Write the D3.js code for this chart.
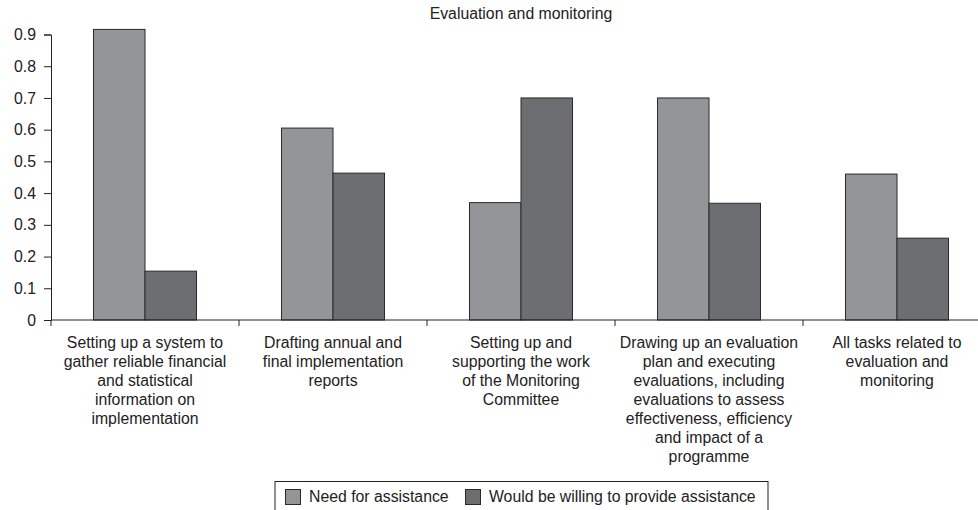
<!DOCTYPE html>
<html>
<head>
<meta charset="utf-8">
<script src="https://cdn.jsdelivr.net/npm/d3@7"></script>
<style>
  html, body { margin: 0; padding: 0; background: #fff; }
  svg { display: block; font-family: "Liberation Sans", Arial, sans-serif; }
</style>
</head>
<body>
<svg id="chart" width="978" height="510"></svg>
<script>
const title = "Evaluation and monitoring";
const categories = [
  "Setting up a system to gather reliable financial and statistical information on implementation",
  "Drafting annual and final implementation reports",
  "Setting up and supporting the work of the Monitoring Committee",
  "Drawing up an evaluation plan and executing evaluations, including evaluations to assess effectiveness, efficiency and impact of a programme",
  "All tasks related to evaluation and monitoring"
];
const categoryLines = [
  ["Setting up a system to", "gather reliable financial", "and statistical", "information on", "implementation"],
  ["Drafting annual and", "final implementation", "reports"],
  ["Setting up and", "supporting the work", "of the Monitoring", "Committee"],
  ["Drawing up an evaluation", "plan and executing", "evaluations, including", "evaluations to assess", "effectiveness, efficiency", "and impact of a", "programme"],
  ["All tasks related to", "evaluation and", "monitoring"]
];
const seriesNames = ["Need for assistance", "Would be willing to provide assistance"];
const needValues = [0.916, 0.605, 0.37, 0.70, 0.46];
const willingValues = [0.154, 0.463, 0.70, 0.368, 0.258];
const yTicks = [0, 0.1, 0.2, 0.3, 0.4, 0.5, 0.6, 0.7, 0.8, 0.9];
const colors = ["#939598", "#6d6e71"];

const svg = d3.select("#chart");
const fontSize = 15.8;
const left = 51, right = 991, zeroY = 320, topY = 34.5;

const x = d3.scaleBand().domain(categories).range([left, right]).paddingInner(0).paddingOuter(0);
const y = d3.scaleLinear().domain([0, 0.9]).range([zeroY, topY]);
const x1 = d3.scaleBand().domain(seriesNames).range([0, 103]);
const groupOffset = (x.bandwidth() - 103) / 2;

// title
svg.append("text")
  .attr("x", (left + right) / 2).attr("y", 19)
  .attr("text-anchor", "middle")
  .attr("font-size", fontSize).attr("fill", "#222")
  .text(title);

// bars
const rows = categories.map((c, i) => ({ c, vals: [needValues[i], willingValues[i]] }));
const g = svg.append("g");
rows.forEach(r => {
  r.vals.forEach((v, j) => {
    g.append("rect")
      .attr("x", x(r.c) + groupOffset + x1(seriesNames[j]))
      .attr("y", y(v))
      .attr("width", x1.bandwidth())
      .attr("height", y(0) - y(v))
      .attr("fill", colors[j])
      .attr("stroke", "#2a2a2a")
      .attr("stroke-width", 1);
  });
});

// y axis
const yAxis = svg.append("g")
  .attr("transform", `translate(${left},0)`)
  .call(d3.axisLeft(y).tickValues(yTicks).tickSize(7).tickPadding(8).tickFormat(d => d === 0 ? "0" : d3.format(".1f")(d)));
yAxis.select(".domain").attr("stroke", "#222");
yAxis.selectAll(".tick line").attr("stroke", "#222");
yAxis.selectAll("text").attr("font-size", fontSize).attr("fill", "#222").attr("font-family", "Liberation Sans, Arial, sans-serif");

// x axis baseline and ticks at band edges
svg.append("line")
  .attr("x1", left).attr("x2", right)
  .attr("y1", zeroY).attr("y2", zeroY)
  .attr("stroke", "#222");
categories.forEach(c => {
  svg.append("line")
    .attr("x1", x(c)).attr("x2", x(c))
    .attr("y1", zeroY).attr("y2", zeroY + 6)
    .attr("stroke", "#222");
});
svg.append("line")
  .attr("x1", right).attr("x2", right)
  .attr("y1", zeroY).attr("y2", zeroY + 6)
  .attr("stroke", "#222");

// category labels
categories.forEach((c, i) => {
  const t = svg.append("text")
    .attr("text-anchor", "middle")
    .attr("font-size", fontSize).attr("fill", "#222");
  categoryLines[i].forEach((line, k) => {
    t.append("tspan")
      .attr("x", x(c) + x.bandwidth() / 2)
      .attr("y", 348 + k * 19)
      .text(line);
  });
});

// legend
const lg = svg.append("g");
lg.append("rect")
  .attr("x", 275).attr("y", 481.5)
  .attr("width", 493).attr("height", 40)
  .attr("fill", "#fff").attr("stroke", "#222").attr("stroke-width", 1);
const legendX = [285, 465];
seriesNames.forEach((s, j) => {
  lg.append("rect")
    .attr("x", legendX[j] + 0.5).attr("y", 489.5)
    .attr("width", 15).attr("height", 15)
    .attr("fill", colors[j]).attr("stroke", "#2a2a2a");
  lg.append("text")
    .attr("x", legendX[j] + 24).attr("y", 502)
    .attr("font-size", fontSize).attr("fill", "#222")
    .text(s);
});
</script>
</body>
</html>
